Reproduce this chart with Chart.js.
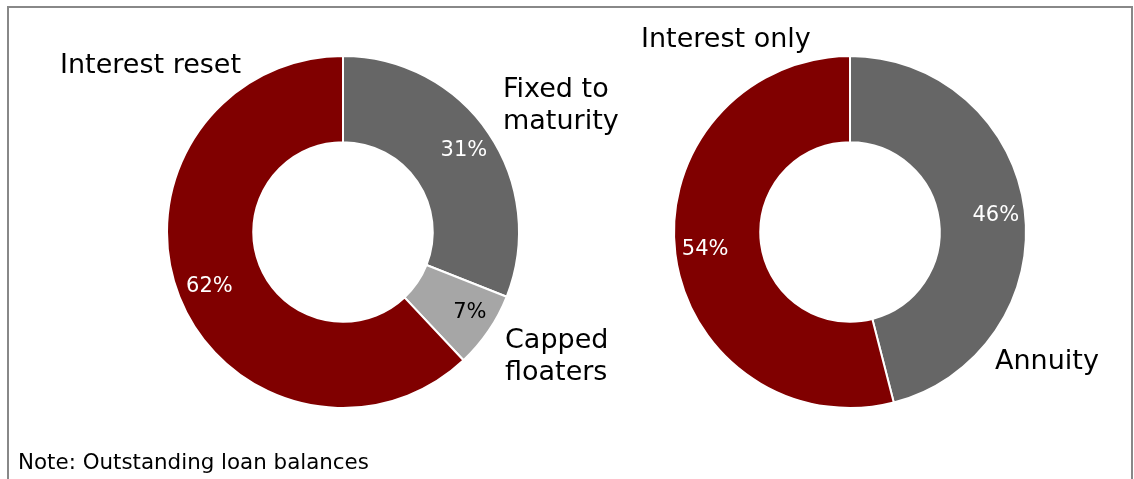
<!DOCTYPE html>
<html>
<head>
<meta charset="utf-8">
<script src="https://cdn.jsdelivr.net/npm/chart.js@4"></script>
<style>
  body { margin: 0; background: #fff; }
  #wrap { position: relative; width: 1134px; height: 479px; overflow: hidden; font-family: "DejaVu Sans", Verdana, sans-serif; }
  #frame { position: absolute; left: 7px; top: 6px; width: 1126px; height: 500px; border: 2px solid #888; border-bottom: none; box-sizing: border-box; }
  .pie { position: absolute; top: 0; height: 479px; }
  #nota { position: absolute; left: 18px; top: 449px; font-size: 21.4px; color: #000; white-space: nowrap; }
</style>
</head>
<body>
<div id="wrap">
  <div id="frame"></div>
  <div class="pie" style="left:0;width:680px"><canvas id="tipoInteres"></canvas></div>
  <div class="pie" style="left:567px;width:567px"><canvas id="tipoAmort"></canvas></div>
  <div id="nota">Note: Outstanding loan balances</div>
</div>
<script>
// Datos del grafico izquierdo (tipo de interes)
const categoriasInteres = ['Fixed to maturity', 'Capped floaters', 'Interest reset'];
const valoresInteres = [31, 7, 62];
const coloresInteres = ['#666666', '#a6a6a6', '#800000'];

// Datos del grafico derecho (amortizacion)
const categoriasAmort = ['Annuity', 'Interest only'];
const valoresAmort = [46, 54];
const coloresAmort = ['#666666', '#800000'];

// posiciones de las etiquetas de categoria (relativas a cada canvas) y ajustes de los %
const etiquetasInteres = [
  { lineas: ['Fixed to', 'maturity'], x: 503, y: 90 },
  { lineas: ['Capped', 'floaters'], x: 505, y: 341 },
  { lineas: ['Interest reset'], x: 60, y: 66 }
];
const ajustesInteres = [[11, -7, '#fff'], [17, 6, '#000'], [-10, 6, '#fff']];

const etiquetasAmort = [
  { lineas: ['Annuity'], x: 428, y: 362 },
  { lineas: ['Interest only'], x: 74, y: 40 }
];
const ajustesAmort = [[14, 0, '#fff'], [-13, 1, '#fff']];

const FUENTE = '"DejaVu Sans", Verdana, sans-serif';

function pluginEtiquetas(etiquetas, ajustes) {
  return {
    id: 'etiquetas',
    afterDraw(chart) {
      const ctx = chart.ctx;
      const ds = chart.data.datasets[0];
      const arcos = chart.getDatasetMeta(0).data;
      ctx.save();
      ctx.textBaseline = 'middle';
      // porcentajes dentro del anillo
      ctx.font = '21px ' + FUENTE;
      ctx.textAlign = 'center';
      arcos.forEach((arco, i) => {
        const p = arco.tooltipPosition();
        ctx.fillStyle = ajustes[i][2];
        ctx.fillText(ds.data[i] + '%', p.x + ajustes[i][0], p.y + ajustes[i][1]);
      });
      // nombres de categoria fuera del anillo
      ctx.font = '27px ' + FUENTE;
      ctx.textAlign = 'left';
      ctx.fillStyle = '#000';
      etiquetas.forEach(e => {
        e.lineas.forEach((l, k) => ctx.fillText(l, e.x, e.y + k * 32));
      });
      ctx.restore();
    }
  };
}

function crearDona(id, categorias, valores, colores, padding, etiquetas, ajustes) {
  return new Chart(document.getElementById(id), {
    type: 'doughnut',
    data: {
      labels: categorias,
      datasets: [{
        data: valores,
        backgroundColor: colores,
        borderColor: '#fff',
        borderWidth: 2,
        radius: 176
      }]
    },
    options: {
      responsive: true,
      maintainAspectRatio: false,
      animation: false,
      cutout: '51%',
      layout: { padding: padding },
      plugins: {
        legend: { display: false },
        tooltip: { enabled: false }
      }
    },
    plugins: [pluginEtiquetas(etiquetas, ajustes)]
  });
}

crearDona('tipoInteres', categoriasInteres, valoresInteres, coloresInteres,
  { left: 167, right: 161, top: 56, bottom: 71 }, etiquetasInteres, ajustesInteres);
crearDona('tipoAmort', categoriasAmort, valoresAmort, coloresAmort,
  { left: 107, right: 108, top: 56, bottom: 71 }, etiquetasAmort, ajustesAmort);
</script>
</body>
</html>
